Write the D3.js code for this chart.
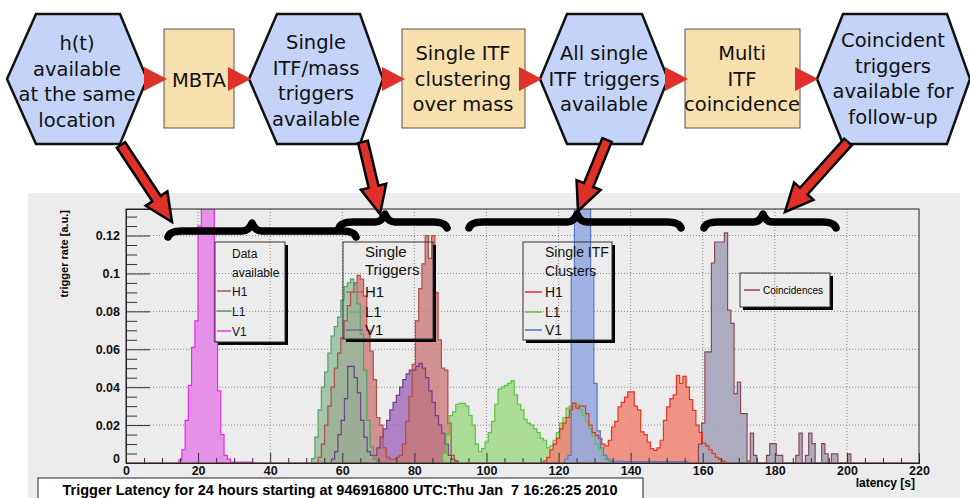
<!DOCTYPE html>
<html><head><meta charset="utf-8">
<script src="https://cdn.jsdelivr.net/npm/d3@7"></script>
<style>body{margin:0;background:#fff}svg{display:block}</style>
</head><body><svg id="c" width="970" height="498"></svg>
<script>
// ---------------- DATA ----------------
const binWidth = 0.9; // seconds per histogram bin
const xTicks = [0,20,40,60,80,100,120,140,160,180,200,220];
const yTicks = [0,0.02,0.04,0.06,0.08,0.1,0.12];

const v1DataStart = 14.6;
const v1Data = [0.0015,0.007,0.0225,0.041,0.061,0.075,0.125,0.16,0.17,0.17,0.15,0.064,0.038,0.015,0.004,0.002,0.0005,0.0005,0.0005,0.0005,0.0005,0.0005,0.0005];

const v1SingleStart = 57.0;
const v1Single = [0.002,0.006,0.015,0.0225,0.034,0.051,0.051,0.045,0.037,0.0225,0.0137,0.006,0.004,0.004,0.008,0.0137,0.018,0.0225,0.028,0.032,0.0357,0.040,0.044,0.047,0.049,0.049,0.051,0.0526,0.050,0.045,0.038,0.032,0.025,0.020,0.0157,0.010,0.004,0.002,0.001];

const h1SingleStart = 53.3;
const h1Single = [0.003,0.010,0.020,0.030,0.040,0.050,0.058,0.066,0.075,0.083,0.090,0.095,0.099,0.097,0.088,0.070,0.059,0.044,0.024,0.020,0.008,
  0.003,0.002,0.002,0.003,
  0.004,0.010,0.022,0.035,0.052,0.075,0.092,0.105,0.120,0.108,0.120,0.090,0.065,0.050,0.049,0.021,0.004,0.001];

const l1SingleStart = 51.5;
const l1Single = [0.0023,0.0137,0.028,0.040,0.048,0.058,0.067,0.072,0.077,0.086,0.093,0.095,0.097,0.094,0.084,0.068,0.049,0.0225,0.0085,0.002,0.001];

const l1ClusterStart = 87.9;
const l1Cluster = [0.005,0.015,0.025,0.027,0.031,0.0315,0.0315,0.030,0.025,0.020,0.010,0.006,0.0076,0.011,0.016,0.022,0.031,0.039,0.040,0.041,0.042,0.0435,0.036,0.031,0.028,0.023,0.021,0.020,0.018,0.016,0.013,0.012,0.008,0.009,0.012,0.016,0.021,0.024,0.029,0.030,0.030,0.031,0.028,0.025,0.022,0.018,0.014,0.010,0.007,0.004,0.002,0.001];

const h1ClusterStart = 115.8;
const h1Cluster = [0.001,0.003,0.007,0.010,0.013,0.018,0.021,0.024,0.028,0.0316,0.029,0.030,0.030,0.026,0.020,0.016,0.0146,0.013,0.010,0.009,0.012,0.019,0.022,0.0296,0.032,0.0348,0.0375,0.0375,0.030,0.028,0.0164,0.015,0.011,0.0076,0.0067,0.008,0.012,0.0225,0.0296,0.034,0.036,0.0463,0.042,0.0457,0.040,0.0335,0.0278,0.020,0.0162,0.0104,0.009,0.007,0.005,0.003,0.002,0.001];

const v1ClusterStart = 121.7;
const v1Cluster = [0.002,0.004,0.10,0.18,0.25,0.25,0.22,0.15,0.10,0.042,0.017,0.008,0.004,0.002,0.001,0.001,0.001,0.001,0.0008,0.0008,0.0008,0.0008,0.0008,0.0008,0.0008,0.0008,0.0008,0.0008,0.0008,0.0008,0.0008,0.0008,0.0008,0.0008,0.0008,0.0008,0.0008,0.0008];

const coincStart = 158.8;
const coinc = [0.010,0.021,0.0586,0.0586,0.1055,0.1166,0.1166,0.1166,0.1214,0.0806,0.0737,0.0366,0.0427,0.026,0.026,0.001,0.0158,0.004,0,0,0,0.004,0.0102,0.0102,0.004,0.004,0,0,0,0,0.004,0.0158,0,0.004,0.0158,0.0102,0,0,0.0102,0.0048,0,0.0048,0.0048,0,0,0,0.0048,0];

const stepTexts = [
  ["h(t)","available","at the same","location"],
  ["MBTA"],
  ["Single","ITF/mass","triggers","available"],
  ["Single ITF","clustering","over mass"],
  ["All single","ITF triggers","available"],
  ["Multi","ITF","coincidence"],
  ["Coincident","triggers","available for","follow-up"]
];
const legendDataLabels = ["Data","available"];
const legendSingleLabels = ["Single","Triggers"];
const legendClusterLabels = ["Single ITF","Clusters"];
const ifos = ["H1","L1","V1"];
const titleText = "Trigger Latency for 24 hours starting at 946916800 UTC:Thu Jan  7 16:26:25 2010";

// ---------------- DRAW ----------------
const svg = d3.select("#c");
const F = "'Liberation Sans', Arial, Helvetica, sans-serif";
const FD = "'DejaVu Sans', Verdana, sans-serif";

svg.append("rect").attr("x",28).attr("y",193).attr("width",932).attr("height",305).attr("fill","#ececec");

const x = d3.scaleLinear().domain([0,220]).range([126,919]);
const y = d3.scaleLinear().domain([0,0.134]).range([463,209]);

const g = svg.append("g");
g.selectAll("line.gx").data(xTicks.slice(1,-1)).join("line")
  .attr("x1",d=>x(d)).attr("x2",d=>x(d)).attr("y1",y.range()[1]).attr("y2",y.range()[0])
  .attr("stroke","#8a8a8a").attr("stroke-dasharray","1,2");
g.selectAll("line.gy").data(yTicks.slice(1)).join("line")
  .attr("y1",d=>y(d)).attr("y2",d=>y(d)).attr("x1",x.range()[0]).attr("x2",x.range()[1])
  .attr("stroke","#8a8a8a").attr("stroke-dasharray","1,2");

svg.append("clipPath").attr("id","fr").append("rect")
  .attr("x",126).attr("y",209).attr("width",793).attr("height",254);

const series = [
  {s:v1DataStart, v:v1Data, fill:"#e58ce8", stroke:"#e030e8", op:0.95},
  {s:v1SingleStart, v:v1Single, fill:"#9a5fb6", stroke:"#6e3f92", op:0.75},
  {s:h1SingleStart, v:h1Single, fill:"#c97876", stroke:"#b04e4a", op:0.78},
  {s:l1SingleStart, v:l1Single, fill:"#8fbc98", stroke:"#5a9d6c", op:0.78},
  {s:l1ClusterStart, v:l1Cluster, fill:"#9fd98a", stroke:"#5cc63a", op:0.85},
  {s:h1ClusterStart, v:h1Cluster, fill:"#ee8474", stroke:"#e8341e", op:0.85},
  {s:v1ClusterStart, v:v1Cluster, fill:"#96abdf", stroke:"#5a7ccf", op:0.9},
  {s:coincStart, v:coinc, fill:"#a6a6ba", stroke:"#8a4858", op:0.92}
];
function pts(s, vals){
  const a=[{t:s,v:0}];
  vals.forEach((v,i)=>a.push({t:s+i*binWidth,v}));
  const end=s+vals.length*binWidth;
  a.push({t:end,v:vals[vals.length-1]});
  a.push({t:end,v:0});
  return a;
}
const area = d3.area().curve(d3.curveStepAfter).x(d=>x(d.t)).y0(y(0)).y1(d=>y(d.v));
const line = d3.line().curve(d3.curveStepAfter).x(d=>x(d.t)).y(d=>y(d.v));
const hg = svg.append("g").attr("clip-path","url(#fr)");
series.forEach(S=>{
  hg.append("path").attr("d",area(pts(S.s,S.v))).attr("fill",S.fill).attr("fill-opacity",S.op).attr("stroke","none");
});
series.forEach(S=>{
  hg.append("path").attr("d",line(pts(S.s,S.v))).attr("fill","none").attr("stroke",S.stroke).attr("stroke-width",1.2);
});

svg.append("rect").attr("x",126).attr("y",209).attr("width",793).attr("height",254)
  .attr("fill","none").attr("stroke","#222").attr("stroke-width",1);
svg.append("line").attr("x1",126).attr("x2",919).attr("y1",y(0)).attr("y2",y(0)).attr("stroke","#a05656").attr("stroke-width",1.2);

const yAx = d3.axisLeft(y).tickValues(yTicks).tickSize(-24).tickPadding(6)
  .tickFormat(d=>d===0?"0":String(+d.toFixed(2)));
const ya = svg.append("g").attr("transform","translate(126,0)").call(yAx);
const minorY = d3.range(0,0.1341,0.005).filter(v=>!yTicks.some(t=>Math.abs(t-v)<1e-9));
svg.append("g").attr("transform","translate(126,0)")
  .call(d3.axisLeft(y).tickValues(minorY).tickSize(-11).tickFormat(""));
const xAx = d3.axisBottom(x).tickValues(xTicks).tickSize(-10).tickPadding(3);
const xa = svg.append("g").attr("transform","translate(0,463)").call(xAx);
const minorX = d3.range(0,221,5).filter(v=>v%20!==0);
svg.append("g").attr("transform","translate(0,463)")
  .call(d3.axisBottom(x).tickValues(minorX).tickSize(-5).tickFormat(""));
svg.selectAll(".domain").attr("stroke","#222");
svg.selectAll(".tick line").attr("stroke","#333");
[ya,xa].forEach(a=>a.selectAll("text").attr("font-family",F).attr("font-weight","bold").attr("font-size",12.5).attr("fill","#111"));
ya.selectAll(".tick").filter(d=>d===0).select("text").attr("dy","-0.05em");

svg.append("text").attr("transform","translate(68,210) rotate(-90)").attr("text-anchor","end")
  .attr("font-family",F).attr("font-weight","bold").attr("font-size",11).text("trigger rate [a.u.]");
svg.append("text").attr("x",915).attr("y",487).attr("text-anchor","end")
  .attr("font-family",F).attr("font-weight","bold").attr("font-size",12).text("latency [s]");

function legend(x0,y0,w,h){
  svg.append("rect").attr("x",x0+w).attr("y",y0+3).attr("width",3).attr("height",h).attr("fill","#000");
  svg.append("rect").attr("x",x0+3).attr("y",y0+h).attr("width",w).attr("height",3).attr("fill","#000");
  svg.append("rect").attr("x",x0).attr("y",y0).attr("width",w).attr("height",h).attr("fill","none").attr("stroke","#333").attr("stroke-width",1);
}
function legendEntries(x0,lx0,lx1,titles,tys,cols,eys,fs){
  titles.forEach((t,i)=>svg.append("text").attr("x",x0).attr("y",tys[i]).attr("font-family",F).attr("font-size",fs).attr("fill","#111").text(t));
  ifos.forEach((t,i)=>{
    svg.append("line").attr("x1",lx0).attr("x2",lx1).attr("y1",eys[i]-5).attr("y2",eys[i]-5).attr("stroke",cols[i]).attr("stroke-width",1.5);
    svg.append("text").attr("x",x0).attr("y",eys[i]).attr("font-family",F).attr("font-size",fs).attr("fill","#111").text(t);
  });
}
legend(215,242,70,100);
legendEntries(232,217,231,legendDataLabels,[258,277],["#b05a5a","#5a9a6a","#e040e0"],[296,316,336],12);
legend(343,242,90,97);
legendEntries(365,346,363,legendSingleLabels,[257,275],["#c06050","#70b070","#8060a0"],[297,317,335],15);
legend(523,242,89,98);
legendEntries(545,525,542,legendClusterLabels,[257,276],["#e03020","#60c040","#5070d0"],[297,317,335],14);
legend(740,273,90,34);
svg.append("line").attr("x1",744).attr("x2",760).attr("y1",290).attr("y2",290).attr("stroke","#8a4858").attr("stroke-width",1.5);
svg.append("text").attr("x",763).attr("y",294).attr("font-family",F).attr("font-size",10).text("Coincidences");

svg.append("rect").attr("x",38).attr("y",478).attr("width",605).attr("height",30).attr("fill","#fff").attr("stroke","#222");
svg.append("text").attr("x",340).attr("y",495).attr("text-anchor","middle").attr("font-family",F).attr("font-weight","bold")
  .attr("font-size",15).attr("textLength",555).attr("lengthAdjust","spacingAndGlyphs")
  .style("white-space","pre").attr("xml:space","preserve").text(titleText);

function brace(x0,x1,xc,yb){
  const p = `M${x0},${yb+6} Q${x0+2},${yb} ${x0+14},${yb} L${xc-10},${yb} Q${xc-3},${yb} ${xc},${yb-8} Q${xc+3},${yb} ${xc+10},${yb} L${x1-14},${yb} Q${x1-2},${yb} ${x1},${yb+6}`;
  svg.append("path").attr("d",p).attr("fill","none").attr("stroke","#000").attr("stroke-width",7.5).attr("stroke-linecap","round").attr("stroke-linejoin","round");
}
brace(168,356,252,231);
brace(339,447,385,222);
brace(469,681,577,222);
brace(704,836,763,222);

const fg = svg.append("g");
const hexes = [[7,36,120,147],[249,277,360,383],[540,567,642,668],[817,843,947,970]];
hexes.forEach(h=>{
  fg.append("polygon").attr("points",`${h[0]},79 ${h[1]},14 ${h[2]},14 ${h[3]},79 ${h[2]},144 ${h[1]},144`)
    .attr("fill","#c4d3f8").attr("stroke","#111").attr("stroke-width",2.5).attr("stroke-linejoin","miter");
});
const rects = [[164,234],[402,525],[685,800]];
rects.forEach(r=>{
  fg.append("rect").attr("x",r[0]).attr("y",29).attr("width",r[1]-r[0]).attr("height",99)
    .attr("fill","#f7e0ae").attr("stroke","#555").attr("stroke-width",1);
});
[167,251,405,542,688,818].forEach(t=>{
  fg.append("polygon").attr("points",`${t-23},67 ${t-23},91 ${t},79`).attr("fill","#e0302a");
});
const centers = [77,199,316,463,604,742,893];
const firstBase = [50,87,49,60,60,60,47];
stepTexts.forEach((lines,i)=>{
  lines.forEach((t,j)=>{
    fg.append("text").attr("x",centers[i]).attr("y",firstBase[i]+j*25.5).attr("text-anchor","middle")
      .attr("font-family",FD).attr("font-size",19.5).attr("fill","#111").text(t);
  });
});

function arrow(x1,y1,x2,y2){
  const dx=x2-x1, dy=y2-y1, L=Math.hypot(dx,dy), ux=dx/L, uy=dy/L, nx=-uy, ny=ux;
  const hl=28, sw=5, hw=13;
  const bx=x2-ux*hl, by=y2-uy*hl;
  const P=[[x1+nx*sw,y1+ny*sw],[bx+nx*sw,by+ny*sw],[bx+nx*hw,by+ny*hw],[x2,y2],[bx-nx*hw,by-ny*hw],[bx-nx*sw,by-ny*sw],[x1-nx*sw,y1-ny*sw]];
  svg.append("polygon").attr("points",P.map(p=>p.join(",")).join(" ")).attr("fill","#e0302a").attr("stroke","#000").attr("stroke-width",2.5).attr("stroke-linejoin","miter");
}
arrow(121,145,172,222);
arrow(363,142,380,214);
arrow(607,140,578,211);
arrow(848,142,785,212);
</script></body></html>
